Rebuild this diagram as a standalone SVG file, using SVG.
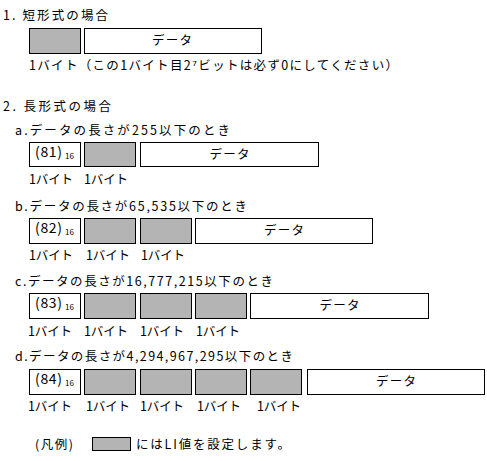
<svg xmlns="http://www.w3.org/2000/svg" width="487" height="461" viewBox="0 0 487 461">
<style>
text{font-family:"MS Gothic","Noto Sans CJK JP","DejaVu Sans",sans-serif;font-size:12.5px;fill:#000}
.g{fill:#b4b4b4;stroke:#000;stroke-width:1}
.w{fill:#fff;stroke:#000;stroke-width:1}
.c{text-anchor:middle}
.h{font-size:14px}
.s{font-size:8px}
</style>
<rect width="487" height="461" fill="#fff"/>
<g id="short">
<text x="3" y="20" textLength="105" lengthAdjust="spacing">1. 短形式の場合</text>
<g id="s-len"><rect class="g" x="29.5" y="28.5" width="51" height="25"/></g>
<g id="s-data"><rect class="w" x="84.5" y="28.5" width="177" height="25"/><text x="152" y="45" textLength="40" lengthAdjust="spacing">データ</text></g>
<text x="29" y="70" textLength="369" lengthAdjust="spacing">1バイト（この1バイト目2⁷ビットは必ず0にしてください）</text>
</g>
<text x="3" y="111" textLength="108" lengthAdjust="spacing">2. 長形式の場合</text>
<g id="long-a">
<text x="15" y="135" textLength="215" lengthAdjust="spacing">a.データの長さが255以下のとき</text>
<rect class="w" x="29.5" y="142.5" width="51" height="24"/><text class="h" x="35" y="157" textLength="27" lengthAdjust="spacing">(81)</text><text class="s" x="65" y="159">16</text>
<rect class="g" x="84.5" y="142.5" width="51" height="24"/>
<rect class="w" x="140.5" y="142.5" width="178" height="24"/><text x="209.5" y="159" textLength="40" lengthAdjust="spacing">データ</text>
<text x="29" y="184" textLength="44" lengthAdjust="spacing">1バイト</text><text x="84" y="184" textLength="44" lengthAdjust="spacing">1バイト</text>
</g>
<g id="long-b">
<text x="15" y="211" textLength="232" lengthAdjust="spacing">b.データの長さが65,535以下のとき</text>
<rect class="w" x="29.5" y="218.5" width="51" height="25"/><text class="h" x="35" y="233" textLength="27" lengthAdjust="spacing">(82)</text><text class="s" x="65" y="235">16</text>
<rect class="g" x="84.5" y="218.5" width="51" height="25"/>
<rect class="g" x="140.5" y="218.5" width="51" height="25"/>
<rect class="w" x="195.5" y="218.5" width="177" height="25"/><text x="264" y="235" textLength="40" lengthAdjust="spacing">データ</text>
<text x="29" y="260" textLength="44" lengthAdjust="spacing">1バイト</text><text x="86" y="260" textLength="44" lengthAdjust="spacing">1バイト</text><text x="141" y="260" textLength="44" lengthAdjust="spacing">1バイト</text>
</g>
<g id="long-c">
<text x="15" y="286" textLength="258" lengthAdjust="spacing">c.データの長さが16,777,215以下のとき</text>
<rect class="w" x="29.5" y="293.5" width="51" height="25"/><text class="h" x="35" y="308" textLength="27" lengthAdjust="spacing">(83)</text><text class="s" x="65" y="310">16</text>
<rect class="g" x="84.5" y="293.5" width="51" height="25"/>
<rect class="g" x="140.5" y="293.5" width="51" height="25"/>
<rect class="g" x="195.5" y="293.5" width="51" height="25"/>
<rect class="w" x="250.5" y="293.5" width="178" height="25"/><text x="319.5" y="310" textLength="40" lengthAdjust="spacing">データ</text>
<text x="28" y="336" textLength="44" lengthAdjust="spacing">1バイト</text><text x="84" y="336" textLength="44" lengthAdjust="spacing">1バイト</text><text x="140" y="336" textLength="44" lengthAdjust="spacing">1バイト</text><text x="196" y="336" textLength="44" lengthAdjust="spacing">1バイト</text>
</g>
<g id="long-d">
<text x="15" y="361" textLength="278" lengthAdjust="spacing">d.データの長さが4,294,967,295以下のとき</text>
<rect class="w" x="29.5" y="369.5" width="51" height="25"/><text class="h" x="35" y="384" textLength="27" lengthAdjust="spacing">(84)</text><text class="s" x="65" y="386">16</text>
<rect class="g" x="84.5" y="369.5" width="51" height="25"/>
<rect class="g" x="140.5" y="369.5" width="51" height="25"/>
<rect class="g" x="195.5" y="369.5" width="51" height="25"/>
<rect class="g" x="250.5" y="369.5" width="51" height="25"/>
<rect class="w" x="307.5" y="369.5" width="177" height="25"/><text x="376" y="386" textLength="40" lengthAdjust="spacing">データ</text>
<text x="28" y="411" textLength="44" lengthAdjust="spacing">1バイト</text><text x="86" y="411" textLength="44" lengthAdjust="spacing">1バイト</text><text x="140" y="411" textLength="44" lengthAdjust="spacing">1バイト</text><text x="197" y="411" textLength="44" lengthAdjust="spacing">1バイト</text><text x="257" y="411" textLength="44" lengthAdjust="spacing">1バイト</text>
</g>
<g id="legend">
<text x="35" y="449" textLength="38" lengthAdjust="spacing">(凡例)</text>
<rect class="g" x="92.5" y="437.5" width="38" height="13"/>
<text x="136" y="449" textLength="154" lengthAdjust="spacing">にはLI値を設定します。</text>
</g>
</svg>
